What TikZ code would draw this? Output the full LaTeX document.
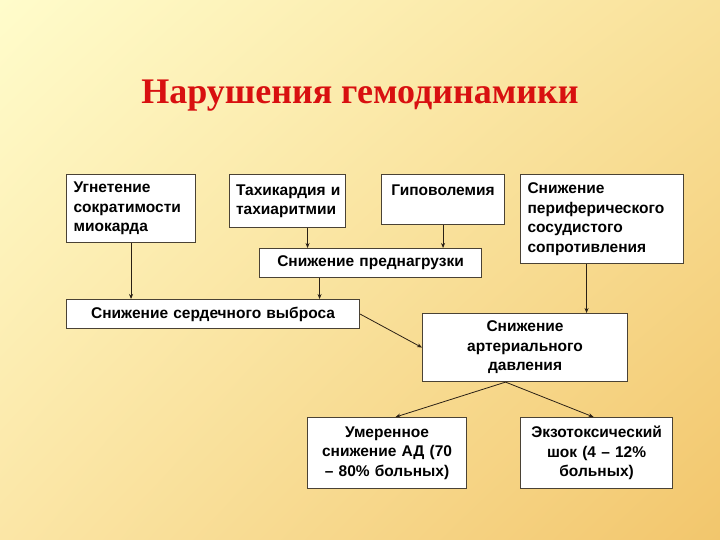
\documentclass[tikz,border=0pt]{standalone}
\usepackage{fontspec}
\setmainfont{Liberation Sans}
\newfontfamily\titlefont{Liberation Serif}
\usetikzlibrary{arrows.meta,shadings}
\definecolor{bgTL}{HTML}{FFFCCB}
\definecolor{bgTR}{HTML}{F9E19A}
\definecolor{bgBL}{HTML}{FBE6A6}
\definecolor{bgBR}{HTML}{F2C66C}
\definecolor{boxline}{HTML}{4A4235}
\definecolor{arrline}{HTML}{2A2015}
\definecolor{titlered}{HTML}{D81010}
\tikzset{
  box/.style={draw=boxline, line width=1.1pt, fill=white, anchor=north west,
    inner xsep=7pt, inner ysep=0pt, font=\fontsize{15.5}{19.5}\selectfont\bfseries},
  lbox/.style={box, align=left},
  cbox/.style={box, align=center},
  arr/.style={draw=arrline, line width=0.8pt, -{Stealth[length=5pt,width=4pt]}}
}
\begin{document}
\begin{tikzpicture}[x=1pt,y=-1pt]
\useasboundingbox (0,0) rectangle (720,540);
\shade[upper left=bgTL, upper right=bgTR, lower left=bgBL, lower right=bgBR] (0,0) rectangle (720,540);
\node[text=titlered, font=\titlefont\fontsize{36}{40}\selectfont\bfseries] (title) at (360,96) {Нарушения гемодинамики};
\node[lbox, text width=115pt, minimum height=68pt] (b1) at (66,174) {Угнетение\\сократимости\\миокарда};
\node[lbox, inner xsep=5pt, text width=106pt, minimum height=53pt] (b2) at (229,174) {\hspace*{1.5pt}Тахикардия~и\\\hspace*{1.5pt}тахиаритмии};
\node[cbox, text width=109pt, minimum height=50pt] (b3) at (381,174) {Гиповолемия\\\mbox{}};
\node[lbox, text width=149pt, minimum height=89pt] (b4) at (520,174) {Снижение\\периферического\\сосудистого\\сопротивления};
\node[cbox, text width=208pt, minimum height=29pt] (b5) at (259,248) {Снижение преднагрузки};
\node[cbox, text width=279pt, minimum height=29pt] (b6) at (66,299) {Снижение сердечного выброса};
\node[cbox, text width=191pt, minimum height=68pt] (b7) at (422,313) {Снижение\\артериального\\давления};
\node[cbox, text width=145pt, minimum height=71pt] (b8) at (307,417) {Умеренное\\снижение АД (70\\– 80\% больных)};
\node[cbox, text width=138pt, minimum height=71pt] (b9) at (520,417) {Экзотоксический\\шок (4 – 12\%\\больных)};
\draw[arr] (b1.south) -- (b1.south |- b6.north);
\draw[arr] ([xshift=20pt]b2.south) -- ([xshift=20pt]b2.south |- b5.north);
\draw[arr] (b3.south) -- (b3.south |- b5.north);
\draw[arr] ([xshift=-51pt]b5.south) -- ([xshift=-51pt]b5.south |- b6.north);
\draw[arr] ([xshift=-15.5pt]b4.south) -- ([xshift=-15.5pt]b4.south |- b7.north);
\draw[arr] (b6.east) -- (b7.west);
\draw[arr] ([xshift=-19.5pt]b7.south) -- ([xshift=8.5pt]b8.north);
\draw[arr] ([xshift=-19.5pt]b7.south) -- ([xshift=-3pt]b9.north);
\end{tikzpicture}
\end{document}
